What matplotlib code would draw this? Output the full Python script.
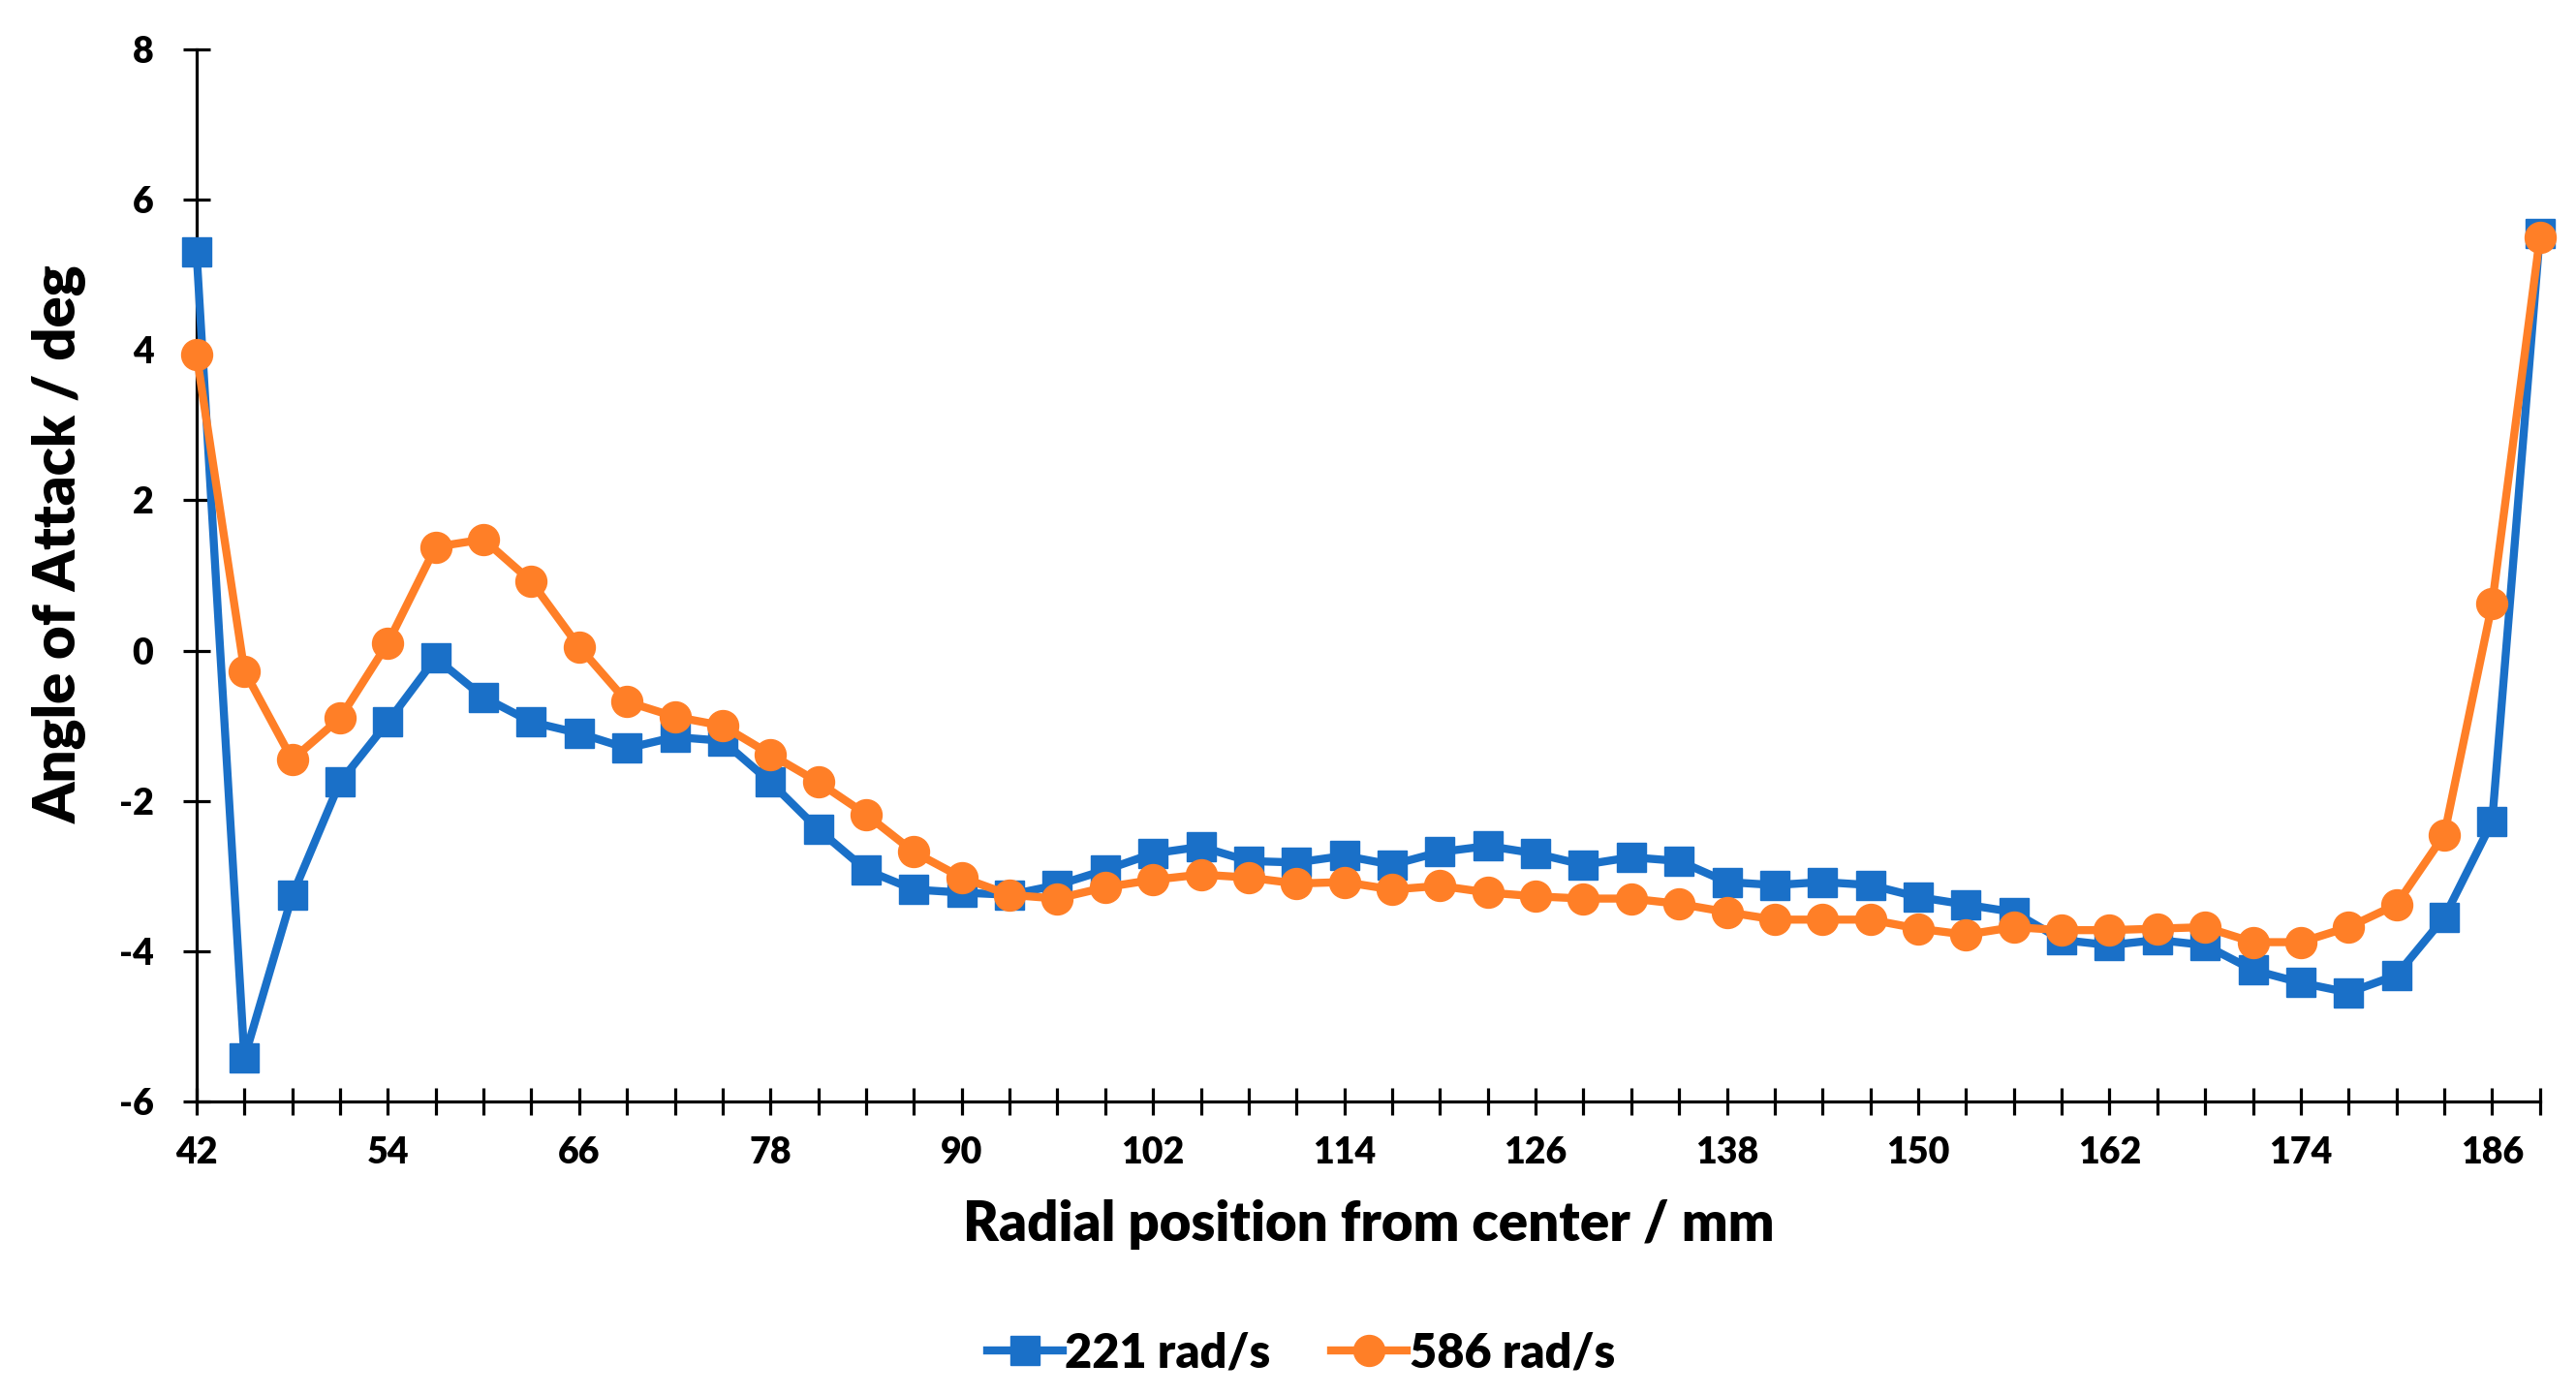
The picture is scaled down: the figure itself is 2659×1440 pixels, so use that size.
import matplotlib
matplotlib.use("Agg")
import matplotlib.pyplot as plt

plt.rcParams["axes.unicode_minus"] = False

# radial positions, mm
radius = list(range(42, 190, 3))

# angle of attack, deg
aoa_221 = [5.30, -5.42, -3.26, -1.75, -0.95, -0.10, -0.62, -0.95, -1.10, -1.30,
           -1.15, -1.20, -1.75, -2.38, -2.92, -3.18, -3.22, -3.25, -3.12, -2.92,
           -2.70, -2.61, -2.80, -2.82, -2.73, -2.85, -2.68, -2.60, -2.70, -2.85,
           -2.75, -2.80, -3.08, -3.12, -3.08, -3.12, -3.28, -3.38, -3.48, -3.85,
           -3.92, -3.85, -3.92, -4.25, -4.42, -4.55, -4.32, -3.55, -2.28, 5.55]
aoa_586 = [3.94, -0.27, -1.45, -0.90, 0.10, 1.38, 1.48, 0.92, 0.05, -0.68,
           -0.88, -1.00, -1.38, -1.75, -2.18, -2.68, -3.02, -3.25, -3.30, -3.15,
           -3.05, -2.98, -3.02, -3.10, -3.08, -3.18, -3.13, -3.22, -3.27, -3.30,
           -3.30, -3.37, -3.48, -3.58, -3.58, -3.58, -3.70, -3.78, -3.68, -3.72,
           -3.72, -3.70, -3.68, -3.88, -3.88, -3.68, -3.38, -2.45, 0.62, 5.50]

blue = "#1a70c8"
orange = "#ff7f27"

fig = plt.figure(figsize=(26.59, 14.4), dpi=100)
ax = fig.add_axes([0.0763, 0.2104, 0.9097, 0.7542])

ax.plot(radius, aoa_221, color=blue, lw=6, marker="s", ms=22, label="221 rad/s",
        zorder=3, clip_on=False)
ax.plot(radius, aoa_586, color=orange, lw=6, marker="o", ms=23, label="586 rad/s",
        zorder=4, clip_on=False)

ax.set_xlim(42, 189)
ax.set_ylim(-6, 8)
ax.set_xticks(range(42, 190, 12))
ax.set_xticks(range(42, 190, 3), minor=True)
ax.set_yticks(range(-6, 9, 2))

for side in ["top", "right"]:
    ax.spines[side].set_visible(False)
for side in ["left", "bottom"]:
    ax.spines[side].set_linewidth(2.3)
    ax.spines[side].set_color("black")

ax.tick_params(axis="both", which="both", direction="inout", width=2.3, color="black",
               length=20)
ax.tick_params(axis="x", which="both", pad=16)
ax.tick_params(axis="y", which="major", pad=22)

for lab in ax.get_xticklabels() + ax.get_yticklabels():
    lab.set_fontfamily("Lato")
    lab.set_fontweight("heavy")
    lab.set_fontsize(27)

ax.set_xlabel("Radial position from center / mm", family="Lato", weight="heavy",
              fontsize=40.5, labelpad=22)
ax.set_ylabel("Angle of Attack / deg", family="Lato", weight="heavy", fontsize=43)
ax.yaxis.set_label_coords(-0.047, 0.53)

fig.legend(loc="center", bbox_to_anchor=(0.505, 0.03), ncol=2, frameon=False,
           prop={"family": "Lato", "weight": "heavy", "size": 35},
           handlelength=1.6, handletextpad=0.05, columnspacing=1.3)

fig.savefig("out.png", dpi=100)
